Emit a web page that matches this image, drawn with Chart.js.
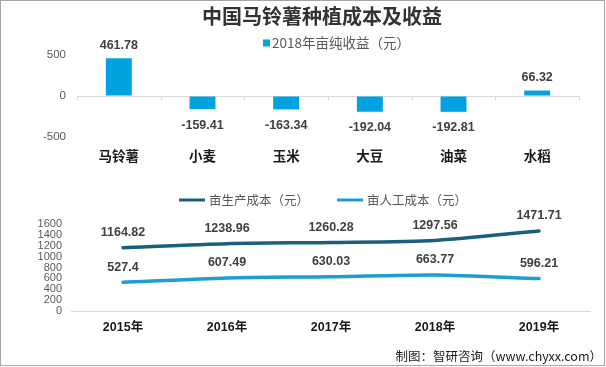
<!DOCTYPE html>
<html>
<head>
<meta charset="utf-8">
<script src="https://cdn.jsdelivr.net/npm/chart.js@4.4.1/dist/chart.umd.min.js"></script>
<style>
  body { margin: 0; background: #fff; }
  #frame { position: absolute; left: 0; top: 0; width: 605px; height: 366px; box-sizing: border-box; border: 1px solid #a6a6a6; }
  #title { position: absolute; left: 122px; top: 4px; width: 400px; text-align: center; font: bold 20px/24px "Noto Sans CJK SC", sans-serif; color: #333; }
  #incomeChart { position: absolute; left: 0; top: 0; }
  #costChart { position: absolute; left: 0; top: 180px; }
  #source { position: absolute; right: 4px; top: 348px; font: 12.5px/16px "Noto Sans CJK SC", sans-serif; color: #1a1a1a; }
</style>
</head>
<body>
<div id="frame"></div>
<canvas id="incomeChart" width="606" height="180"></canvas>
<canvas id="costChart" width="606" height="168"></canvas>
<div id="title">中国马铃薯种植成本及收益</div>
<div id="source">制图：智研咨询（www.chyxx.com）</div>
<script>
// data
const crops = ['马铃薯', '小麦', '玉米', '大豆', '油菜', '水稻'];
const netIncome2018 = [461.78, -159.41, -163.34, -192.04, -192.81, 66.32];
const incomeTicks = [-500, 0, 500];

const years = ['2015年', '2016年', '2017年', '2018年', '2019年'];
const productionCost = [1164.82, 1238.96, 1260.28, 1297.56, 1471.71];
const laborCost = [527.4, 607.49, 630.03, 663.77, 596.21];
const costTicks = [0, 200, 400, 600, 800, 1000, 1200, 1400, 1600];

const numFont = '"Liberation Sans", "Noto Sans CJK SC", sans-serif';
const cjkFont = '"Noto Sans CJK SC", sans-serif';

// value labels above (or below, for negatives) each mark
const valueLabels = {
    id: 'valueLabels',
    afterDatasetsDraw(chart, args, opts) {
        const ctx = chart.ctx;
        ctx.save();
        ctx.font = opts.font;
        ctx.fillStyle = opts.color;
        ctx.textAlign = 'center';
        ctx.textBaseline = 'middle';
        chart.data.datasets.forEach((ds, i) => {
            chart.getDatasetMeta(i).data.forEach((el, j) => {
                const v = ds.data[j];
                const dy = v < 0 ? opts.below : -opts.above;
                ctx.fillText(String(v), el.x, el.y + dy);
            });
        });
        ctx.restore();
    }
};

// simple legend row drawn from the datasets
const plainLegend = {
    id: 'plainLegend',
    afterDraw(chart, args, opts) {
        const ctx = chart.ctx;
        ctx.save();
        ctx.font = opts.font;
        ctx.textBaseline = 'middle';
        let x = opts.x;
        chart.data.datasets.forEach(ds => {
            if (opts.marker === 'box') {
                ctx.fillStyle = ds.backgroundColor;
                ctx.fillRect(x, opts.y - 3.5, 7, 7);
                x += 7 + opts.gap;
            } else {
                ctx.strokeStyle = ds.borderColor;
                ctx.lineWidth = 3;
                ctx.beginPath();
                ctx.moveTo(x, opts.y);
                ctx.lineTo(x + 26, opts.y);
                ctx.stroke();
                x += 26 + opts.gap;
            }
            ctx.fillStyle = opts.color;
            ctx.fillText(ds.label, x, opts.y);
            x += ctx.measureText(ds.label).width + opts.spacing;
        });
        ctx.restore();
    }
};

// little tick marks on the zero line between categories
const zeroTicks = {
    id: 'zeroTicks',
    beforeDatasetsDraw(chart) {
        const ctx = chart.ctx;
        const xs = chart.scales.x;
        const y0 = chart.scales.y.getPixelForValue(0);
        const n = chart.data.labels.length;
        const step = xs.width / n;
        ctx.save();
        ctx.strokeStyle = '#d9d9d9';
        ctx.lineWidth = 1;
        for (let k = 0; k <= n; k++) {
            const px = Math.round(xs.left + k * step) + 0.5;
            ctx.beginPath();
            ctx.moveTo(px, y0);
            ctx.lineTo(px, y0 + 4);
            ctx.stroke();
        }
        ctx.restore();
    }
};

const zeroGrid = c => (c.tick && c.tick.value === 0 ? '#d9d9d9' : 'rgba(0,0,0,0)');
const plainNumber = v => String(v);

new Chart(document.getElementById('incomeChart'), {
    type: 'bar',
    data: {
        labels: crops,
        datasets: [{
            label: '2018年亩纯收益（元）',
            data: netIncome2018,
            backgroundColor: '#00a2df',
            categoryPercentage: 1,
            barPercentage: 0.31
        }]
    },
    options: {
        responsive: false,
        animation: false,
        layout: { padding: { top: 55, right: 27, left: 0, bottom: 0 } },
        plugins: {
            legend: { display: false },
            tooltip: { enabled: false },
            valueLabels: { font: 'bold 12.5px ' + numFont, color: '#404040', above: 13, below: 16 },
            plainLegend: { x: 263, y: 43, marker: 'box', gap: 2, spacing: 20, font: '13.5px ' + cjkFont, color: '#595959' }
        },
        scales: {
            x: {
                grid: { display: false, drawTicks: false },
                border: { display: false },
                ticks: { padding: 11, color: '#1a1a1a', font: { family: cjkFont, size: 13.5, weight: 'bold' } },
                afterFit: s => { s.height = 43; }
            },
            y: {
                min: -500,
                max: 500,
                afterBuildTicks: s => { s.ticks = incomeTicks.map(v => ({ value: v })); },
                grid: { drawTicks: false, color: zeroGrid },
                border: { display: false },
                ticks: { padding: 11, autoSkip: false, callback: plainNumber, color: '#595959', font: { family: numFont, size: 11.5 } },
                afterFit: s => { s.width = 77; }
            }
        }
    },
    plugins: [valueLabels, plainLegend, zeroTicks]
});

new Chart(document.getElementById('costChart'), {
    type: 'line',
    data: {
        labels: years,
        datasets: [{
            label: '亩生产成本（元）',
            data: productionCost,
            borderColor: '#1b5f7d',
            borderWidth: 3.5,
            pointRadius: 0,
            tension: 0.25,
            borderCapStyle: 'round'
        }, {
            label: '亩人工成本（元）',
            data: laborCost,
            borderColor: '#1e9fd3',
            borderWidth: 3.5,
            pointRadius: 0,
            tension: 0.25,
            borderCapStyle: 'round'
        }]
    },
    options: {
        responsive: false,
        animation: false,
        layout: { padding: { top: 44, right: 15, left: 0, bottom: 0 } },
        plugins: {
            legend: { display: false },
            tooltip: { enabled: false },
            valueLabels: { font: 'bold 12.5px ' + numFont, color: '#404040', above: 15, below: 15 },
            plainLegend: { x: 179, y: 20, marker: 'line', gap: 4, spacing: 28, font: '12.5px ' + cjkFont, color: '#595959' }
        },
        scales: {
            x: {
                offset: true,
                grid: { display: false, drawTicks: false },
                border: { display: false },
                ticks: { padding: 9, color: '#1a1a1a', font: { family: numFont, size: 12.5, weight: 'bold' } },
                afterFit: s => { s.height = 37; }
            },
            y: {
                min: 0,
                max: 1600,
                afterBuildTicks: s => { s.ticks = costTicks.map(v => ({ value: v })); },
                grid: { drawTicks: false, color: zeroGrid },
                border: { display: false },
                ticks: { padding: 9, autoSkip: false, callback: plainNumber, color: '#595959', font: { family: numFont, size: 11 } },
                afterFit: s => { s.width = 71; }
            }
        }
    },
    plugins: [valueLabels, plainLegend]
});
</script>
</body>
</html>
